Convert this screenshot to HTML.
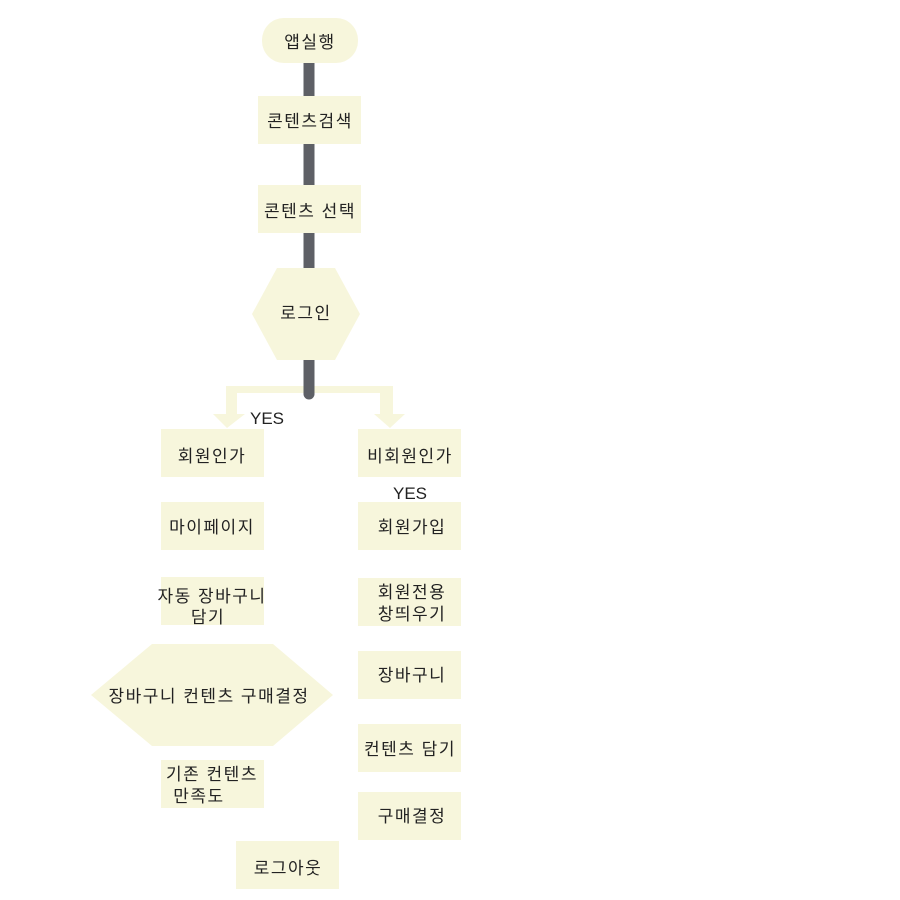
<!DOCTYPE html>
<html><head><meta charset="utf-8"><style>html,body{margin:0;padding:0;background:#fff}svg{display:block}text{font-family:"Liberation Sans","Noto Sans CJK KR",sans-serif;font-size:17px;letter-spacing:1.5px;fill:#222}</style></head><body>
<svg width="900" height="900" viewBox="0 0 900 900" xmlns="http://www.w3.org/2000/svg">
<g fill="#f7f6dc">
<path d="M226,386 H393 V414 H405 L390,428 L374,414 H380 V393 H237 V414 H245 L227,428 L213,414 H226 Z"/>
<line x1="309" y1="62" x2="309" y2="394" stroke="#5e6066" stroke-width="11" stroke-linecap="round"/>
<rect x="262" y="18" width="96" height="45" rx="22"/>
<rect x="258" y="96" width="103" height="48"/>
<rect x="258" y="185" width="103" height="48"/>
<polygon points="252,314 277,268 335,268 360,314 335,360 277,360"/>
<rect x="161" y="429" width="103" height="48"/>
<rect x="358" y="429" width="103" height="48"/>
<rect x="161" y="502" width="103" height="48"/>
<rect x="358" y="502" width="103" height="48"/>
<rect x="161" y="577" width="103" height="48"/>
<rect x="358" y="578" width="103" height="48"/>
<polygon points="91,695 152,644 273,644 333,695 273,746 152,746"/>
<rect x="358" y="651" width="103" height="48"/>
<rect x="358" y="724" width="103" height="48"/>
<rect x="161" y="760" width="103" height="48"/>
<rect x="358" y="792" width="103" height="48"/>
<rect x="236" y="841" width="103" height="48"/>
</g>
<text x="310" y="48" text-anchor="middle">앱실행</text>
<text x="310" y="127" text-anchor="middle">콘텐츠검색</text>
<text x="310" y="217" text-anchor="middle">콘텐츠 선택</text>
<text x="306" y="319" text-anchor="middle">로그인</text>
<text x="250" y="424" style="letter-spacing:0">YES</text>
<text x="212" y="462" text-anchor="middle">회원인가</text>
<text x="410" y="462" text-anchor="middle">비회원인가</text>
<text x="393" y="499" style="letter-spacing:0">YES</text>
<text x="212" y="533" text-anchor="middle">마이페이지</text>
<text x="412" y="533" text-anchor="middle">회원가입</text>
<text x="212" y="602" text-anchor="middle">자동 장바구니</text>
<text x="208" y="623" text-anchor="middle">담기</text>
<text x="412" y="598" text-anchor="middle">회원전용</text>
<text x="412" y="620" text-anchor="middle">창띄우기</text>
<text x="209" y="702" text-anchor="middle">장바구니  컨텐츠 구매결정</text>
<text x="412" y="681" text-anchor="middle">장바구니</text>
<text x="410" y="755" text-anchor="middle">컨텐츠 담기</text>
<text x="212" y="780" text-anchor="middle">기존 컨텐츠</text>
<text x="199" y="802" text-anchor="middle">만족도</text>
<text x="412" y="822" text-anchor="middle">구매결정</text>
<text x="288" y="874" text-anchor="middle">로그아웃</text>
</svg>
</body></html>
